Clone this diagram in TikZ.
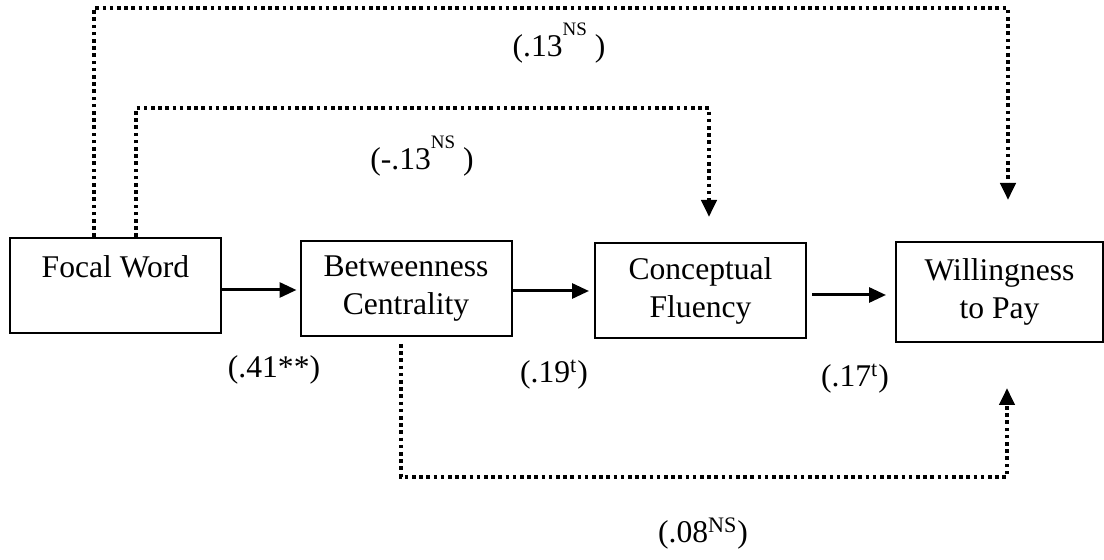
\documentclass[tikz,border=0pt]{standalone}
\usepackage{fontspec}
\setmainfont{Liberation Serif}
\usetikzlibrary{arrows.meta}
\newcommand{\highsup}[1]{\raisebox{10.5pt}{\fontsize{9.5}{11}\selectfont #1}}
\begin{document}
\begin{tikzpicture}[x=0.5pt, y=-0.5pt,
    every node/.style={font=\fontsize{15.8}{19}\selectfont},
    box/.style={draw, line width=1pt, minimum width=105.5pt, minimum height=47.5pt, align=center, inner sep=0pt},
    coef/.style={anchor=base},
    arr/.style={-{Triangle[length=8.5pt,width=7.5pt]}, line width=1.5pt},
    dotline/.style={line width=2pt, dash pattern=on 1.8pt off 1.8pt, -{Triangle[length=8.5pt,width=7.5pt]}}]
    \useasboundingbox (0,0) rectangle (1104,560);

    % The four variables
    \node[box] (fw) at (115.5,285.5) {Focal Word\\ \mbox{}};
    \node[box] (bc) at (406,288.5) {Betweenness\\Centrality};
    \node[box] (cf) at (700.5,290.5) {Conceptual\\Fluency};
    \node[box, minimum width=103.5pt, minimum height=50pt] (wtp) at (999.5,292) {Willingness\\to Pay};

    % Direct paths
    \draw[arr, shorten >=1.5pt] ([yshift=-2.25pt]fw.east) -- ([yshift=-2.25pt]fw.east -| bc.west);
    \draw[arr, shorten >=2.5pt] ([yshift=-1.25pt]bc.east) -- ([yshift=-1.25pt]bc.east -| cf.west);
    \draw[arr, shorten <=2.5pt, shorten >=4.5pt] ([yshift=-2.25pt]cf.east) -- ([yshift=-2.25pt]cf.east -| wtp.west);

    % Indirect (dotted) paths
    \coordinate (o1) at (94,8);
    \coordinate (o2) at (1008,200);
    \coordinate (i1) at (136,108);
    \coordinate (i2) at (709,217);
    \coordinate (b1) at (401,477);
    \coordinate (b2) at (1007,388);
    \draw[dotline] (fw.north -| o1) -- (o1) -| (o2);
    \draw[dotline] (fw.north -| i1) -- (i1) -| (i2);
    \draw[dotline, shorten <=3.5pt] (bc.south -| b1) -- (b1) -| (b2);

    % Coefficients
    \node[coef] (p13) at (559,57) {(.13\highsup{NS} )};
    \node[coef] (m13) at (422,170) {(-.13\highsup{NS} )};
    \node[coef] (p41) at (274,378) {(.41**)};
    \node[coef] (p19) at (554,383) {(.19\textsuperscript{t})};
    \node[coef] (p17) at (855,387) {(.17\textsuperscript{t})};
    \node[coef] (p08) at (703,543) {(.08\textsuperscript{NS})};
\end{tikzpicture}
\end{document}
